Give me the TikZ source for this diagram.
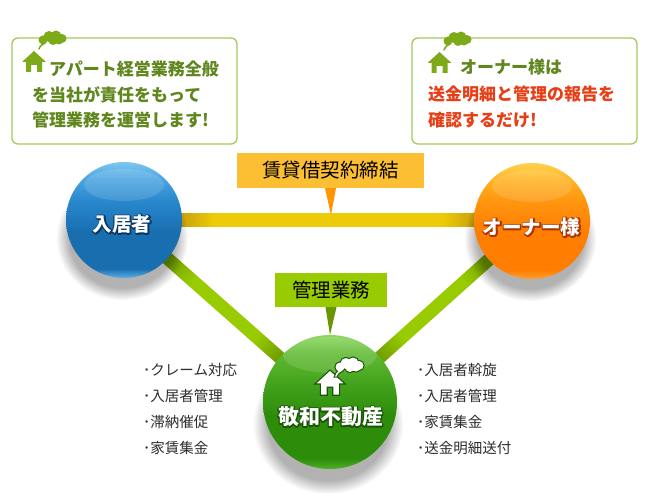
\documentclass[tikz,border=0pt]{standalone}
\usepackage{fontspec}
\setmainfont{Noto Sans CJK JP}
\usetikzlibrary{calc,fadings}
\definecolor{boxg}{RGB}{165,200,90}
\definecolor{iconG}{RGB}{125,170,25}
\definecolor{txtG}{RGB}{95,135,30}
\definecolor{txtR}{RGB}{232,62,22}
\definecolor{labY}{RGB}{252,190,50}
\definecolor{tipY}{RGB}{255,150,0}
\definecolor{labG}{RGB}{153,204,0}
\definecolor{tipG}{RGB}{105,150,0}
\definecolor{barY}{RGB}{238,203,8}
\definecolor{barYd}{RGB}{200,160,10}
\definecolor{barG}{RGB}{153,204,0}
\definecolor{barGd}{RGB}{110,155,0}
\definecolor{bRim}{RGB}{95,175,230}
\definecolor{bLow}{RGB}{25,110,175}
\definecolor{bMid}{RGB}{40,135,205}
\definecolor{bUp}{RGB}{75,165,225}
\definecolor{bTop}{RGB}{125,198,240}
\definecolor{oRim}{RGB}{255,160,50}
\definecolor{oLow}{RGB}{255,125,0}
\definecolor{oMid}{RGB}{255,148,15}
\definecolor{oUp}{RGB}{255,180,35}
\definecolor{oTop}{RGB}{255,210,75}
\definecolor{gRim}{RGB}{80,175,40}
\definecolor{gLow}{RGB}{45,140,10}
\definecolor{gMid}{RGB}{70,165,30}
\definecolor{gUp}{RGB}{95,185,50}
\definecolor{gTop}{RGB}{140,215,95}
\definecolor{bOut}{RGB}{10,55,100}
\definecolor{oOut}{RGB}{170,55,0}
\definecolor{gOut}{RGB}{25,85,5}
\definecolor{listc}{RGB}{45,45,45}
\pgfdeclareverticalshading{blueball}{100bp}{color(0bp)=(bRim); color(25bp)=(bRim); color(29bp)=(bLow); color(45bp)=(bLow); color(58bp)=(bMid); color(68bp)=(bUp); color(75bp)=(bTop); color(100bp)=(bTop)}
\pgfdeclareverticalshading{orangeball}{100bp}{color(0bp)=(oRim); color(25bp)=(oRim); color(29bp)=(oLow); color(45bp)=(oLow); color(58bp)=(oMid); color(68bp)=(oUp); color(75bp)=(oTop); color(100bp)=(oTop)}
\pgfdeclareverticalshading{greenball}{100bp}{color(0bp)=(gRim); color(25bp)=(gRim); color(29bp)=(gLow); color(45bp)=(gLow); color(58bp)=(gMid); color(68bp)=(gUp); color(75bp)=(gTop); color(100bp)=(gTop)}
\pgfdeclarehorizontalshading{ybarsh}{100bp}{color(0bp)=(barYd); color(32bp)=(barYd); color(36bp)=(barY); color(64bp)=(barY); color(68bp)=(barYd); color(100bp)=(barYd)}
\pgfdeclarehorizontalshading{gbarsh}{100bp}{color(0bp)=(barGd); color(35bp)=(barGd); color(42bp)=(barG); color(57bp)=(barG); color(63bp)=(barGd); color(100bp)=(barGd)}
\newcommand\outl[2]{\begingroup
\setbox0=\hbox{\color{#1}\special{pdf:literal direct 1 Tr 2.6 w 1 j}#2\special{pdf:literal direct 0 Tr 1 w 0 j}}%
\setbox2=\hbox{\color{white}#2}%
\rlap{\lower.6pt\copy0}\box2\endgroup}
\begin{document}
\begin{tikzpicture}[x=1pt,y=-1pt,
  callout/.style={draw=boxg, line width=1.3pt, fill=white, rounded corners=6pt},
  cline/.style={anchor=west, inner sep=0pt, font=\bfseries\fontsize{17}{17}\selectfont},
  tag/.style={inner sep=0pt, font=\fontsize{19.5}{20}\selectfont, text=black},
  ball/.style={circle, inner sep=0pt, shade},
  balltext/.style={inner sep=0pt, font=\bfseries\fontsize{19.5}{20}\selectfont},
  listtxt/.style={anchor=west, inner sep=0pt, align=left, text=listc, font=\fontsize{14.5}{26}\selectfont},
  shadowc/.style={fill=black, fill opacity=0.3, path fading=circle with fuzzy edge 20 percent},
  gloss/.style={fill=white, fill opacity=0.13},
  house/.pic={\path[pic actions] (0,0) -- (12,11) -- (8,11) -- (8,21) -- (3,21) -- (3,14) -- (-3,14) -- (-3,21) -- (-8,21) -- (-8,11) -- (-12,11) -- cycle;},
  cloud/.pic={\path[pic actions] (-9,2) circle (4.5pt) (-3,-1.5) circle (5.5pt) (4,-2) circle (5.5pt) (10,0.5) circle (4.5pt) (1,2.5) circle (4.5pt) (7,2.5) circle (4pt)
     (-9,5) .. controls (-12,7) and (-13.5,9) .. (-14,11.5) -- (-12.5,11.5) .. controls (-12,9.5) and (-10.5,7.5) .. (-7,6) -- cycle;}
]
\fill[white] (0,0) rectangle (650,500);
\useasboundingbox (0,0) rectangle (650,500);
\coordinate (cB) at (124,220);
\coordinate (cO) at (532,221);
\coordinate (cG) at (330,402);
% callouts
\draw[callout] (12,38) rectangle (237,144);
\draw[callout] (412,38) rectangle (637,144);
\pic[fill=iconG] at (34,51) {house};
\pic[fill=iconG] at (52,38) {cloud};
\pic[fill=iconG] at (439.5,52) {house};
\pic[fill=iconG] at (457,39) {cloud};
\node[cline, text=txtG] (c1a) at (49,69) {アパート経営業務全般};
\node[cline, text=txtG] (c1b) at (32,95) {を当社が責任をもって};
\node[cline, text=txtG] (c1c) at (32,120) {管理業務を運営します!};
\node[cline, text=txtG] (c2a) at (460,67) {オーナー様は};
\node[cline, text=txtR] (c2b) at (428,94) {送金明細と管理の報告を};
\node[cline, text=txtR] (c2c) at (428,120) {確認するだけ!};
% bars
\shade[shading=ybarsh] (124,213.5) rectangle (532,226.5);
\begin{scope}[transform canvas={shift={(cB)},rotate=-41.46}]
  \shade[shading=gbarsh] (0,-6.5) rectangle (274.9,6.5);
\end{scope}
\begin{scope}[transform canvas={shift={(cO)},rotate=-138.14}]
  \shade[shading=gbarsh] (0,-6.5) rectangle (271.2,6.5);
\end{scope}
% shadows
\fill[shadowc] (122,238) ellipse [x radius=66pt, y radius=62pt];
\fill[shadowc] (530,239) ellipse [x radius=66pt, y radius=62pt];
\fill[shadowc] (328,424) ellipse [x radius=75pt, y radius=70pt];
% tags
\node[tag, fill=labY, minimum width=187pt, minimum height=35pt] (lY) at (330.5,170.5) {賃貸借契約締結};
\coordinate (tY) at (331,215);
\fill[tipY] ($(lY.south)+(-5.5,0)$) -- ($(lY.south)+(5.5,0)$) -- (tY) -- cycle;
\node[tag, fill=labG, minimum width=112pt, minimum height=34pt] (lG) at (331,290) {管理業務};
\coordinate (tG) at (330,335);
\fill[tipG] ($(lG.south)+(-5.5,0)$) -- ($(lG.south)+(5.5,0)$) -- (tG) -- cycle;
% balls
\node[ball, shading=blueball, minimum size=116pt] (nB) at (cB) {};
\node[ball, shading=orangeball, minimum size=116pt] (nO) at (cO) {};
\node[ball, shading=greenball, minimum size=134pt] (nG) at (cG) {};
\fill[gloss] ($(cB)+(0,-35)$) ellipse [x radius=40pt, y radius=16pt];
\fill[gloss] ($(cO)+(0,-35)$) ellipse [x radius=40pt, y radius=16pt];
\fill[gloss] ($(cG)+(0,-47)$) ellipse [x radius=47pt, y radius=18pt];
\node[balltext] (tB) at (122,224) {\outl{bOut}{入居者}};
\node[balltext] (tO) at (531.5,227) {\outl{oOut}{オーナー様}};
\node[balltext, font=\bfseries\fontsize{21}{21}\selectfont] (tGr) at (330.5,416.5) {\outl{gOut}{敬和不動産}};
\pic[fill=gOut, draw=gOut, line width=2.5pt, scale=1.12] at (330,371) {house};
\pic[fill=white, scale=1.12] at (330,371) {house};
\pic[fill=gOut, draw=gOut, line width=2.2pt] at (349,365) {cloud};
\pic[fill=white] at (349,365) {cloud};
% lists
\node[listtxt] (lsL) at (143,409) {･クレーム対応\\･入居者管理\\･滞納催促\\･家賃集金};
\node[listtxt] (lsR) at (417,409) {･入居者斡旋\\･入居者管理\\･家賃集金\\･送金明細送付};
\end{tikzpicture}
\end{document}
